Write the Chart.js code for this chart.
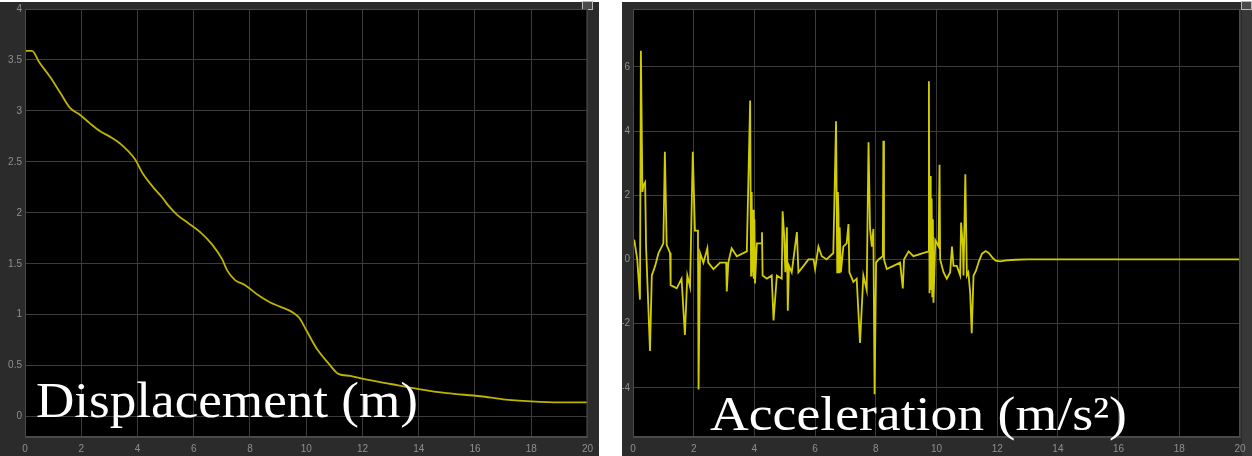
<!DOCTYPE html>
<html>
<head>
<meta charset="utf-8">
<script src="https://cdn.jsdelivr.net/npm/chart.js@4.4.1/dist/chart.umd.min.js"></script>
<style>
  html, body { margin: 0; padding: 0; background: #ffffff; width: 1252px; height: 456px; overflow: hidden; }
  .panel { position: absolute; background: #2b2b2b; }
  .btn { position: absolute; width: 9px; height: 7px; border: 1px solid #b8b8b8; background: #4a4a4a; }
  canvas { position: absolute; top: 0; }
</style>
</head>
<body>
<div class="panel" style="left:0;top:2px;width:599px;height:454px;"></div>
<div class="panel" style="left:622px;top:2px;width:630px;height:454px;"></div>
<div class="panel" style="left:1242px;top:2px;width:10px;height:454px;background:#383838;"></div>
<div class="btn" style="left:582px;top:1px;"></div>
<div class="btn" style="left:1241px;top:1px;"></div>
<canvas id="c1" width="599" height="456" style="left:0;"></canvas>
<canvas id="c2" width="630" height="456" style="left:622px;"></canvas>
<script>
// ---- data ----
const xTickValues = [0, 2, 4, 6, 8, 10, 12, 14, 16, 18, 20];
const dispTickValues = [0, 0.5, 1, 1.5, 2, 2.5, 3, 3.5, 4];
const accTickValues = [-4, -2, 0, 2, 4, 6];

const dispTime = [0, 0.25, 0.5, 0.9, 1.25, 1.6, 1.96, 2.3, 2.67, 3.0, 3.38, 3.9, 4.2, 4.56, 4.88, 5.1, 5.41, 5.8, 6.23, 6.65, 7.0, 7.2, 7.47, 7.83, 8.3, 8.72, 9.07, 9.54, 9.75, 10.0, 10.39, 10.8, 11.14, 11.57, 12.03, 13, 14, 15, 16.2, 17, 18, 19, 20];
const dispValue = [3.59, 3.59, 3.48, 3.33, 3.18, 3.03, 2.96, 2.88, 2.8, 2.75, 2.68, 2.53, 2.38, 2.25, 2.15, 2.07, 1.98, 1.9, 1.81, 1.69, 1.55, 1.43, 1.34, 1.29, 1.19, 1.12, 1.08, 1.02, 0.97, 0.85, 0.66, 0.52, 0.42, 0.40, 0.37, 0.32, 0.27, 0.23, 0.20, 0.17, 0.15, 0.14, 0.14];

const accTime = [0.04, 0.14, 0.23, 0.26, 0.31, 0.34, 0.40, 0.43, 0.56, 0.62, 0.73, 0.84, 1.0, 1.05, 1.11, 1.22, 1.24, 1.44, 1.6, 1.71, 1.79, 1.88, 1.97, 2.04, 2.14, 2.16, 2.21, 2.32, 2.45, 2.48, 2.65, 2.87, 3.07, 3.09, 3.14, 3.25, 3.42, 3.75, 3.86, 3.89, 3.91, 3.93, 3.96, 3.98, 4.0, 4.02, 4.08, 4.24, 4.25, 4.27, 4.41, 4.57, 4.63, 4.74, 4.9, 4.93, 4.98, 5.02, 5.07, 5.1, 5.14, 5.23, 5.4, 5.45, 5.62, 5.78, 5.95, 6.0, 6.11, 6.22, 6.38, 6.6, 6.69, 6.73, 6.75, 6.77, 6.79, 6.81, 6.85, 6.93, 7.04, 7.1, 7.13, 7.26, 7.37, 7.48, 7.59, 7.7, 7.76, 7.81, 7.87, 7.92, 7.96, 8.01, 8.09, 8.23, 8.25, 8.27, 8.36, 8.58, 8.8, 8.89, 8.93, 9.08, 9.24, 9.74, 9.75, 9.77, 9.79, 9.81, 9.84, 9.86, 9.88, 9.9, 9.96, 10.07, 10.1, 10.12, 10.23, 10.34, 10.45, 10.51, 10.56, 10.67, 10.78, 10.81, 10.87, 10.89, 10.95, 11.0, 11.05, 11.11, 11.16, 11.22, 11.3, 11.4, 11.5, 11.62, 11.72, 11.85, 11.95, 12.1, 12.3, 12.6, 13, 20];
const accValue = [0.62, 0.0, -1.25, 6.5, 2.1, 2.3, 2.4, 0.4, -2.85, -0.5, -0.2, 0.2, 0.5, 3.35, 0.45, 0.2, -0.8, -0.9, -0.6, -2.35, -0.5, -0.85, 3.35, 0.9, 0.9, -4.05, 0.2, -0.1, 0.35, -0.1, -0.3, -0.1, -0.1, -1.0, -0.1, 0.35, 0.1, 0.25, 4.95, -0.5, 2.1, -0.4, 1.55, -0.6, 1.25, -0.75, 0.5, 0.5, 0.85, -0.5, -0.6, -0.5, -1.9, -0.5, -0.6, 1.5, 0.75, -0.4, 1.0, -1.6, -0.2, -0.4, 0.85, -0.4, -0.2, 0, 0, -0.3, 0.4, 0.1, 0, 0.2, 4.3, -0.4, 2.1, 1.45, -0.4, 1.0, -0.4, 0.4, 0.5, 1.1, -0.4, -0.7, -0.6, -2.6, -0.5, -0.95, 3.65, 0.95, 0.4, 0.95, -4.2, -0.1, 0, 0.1, 3.7, 0, -0.3, -0.2, -0.1, -0.9, 0, 0.25, 0.1, 0.25, 5.55, -1.05, 2.6, -0.95, 1.9, -1.15, 1.25, -1.35, 0.6, 0.4, 2.95, 0, -0.4, -0.6, -0.4, 0.4, -0.2, -0.2, -0.5, 1.15, 0.4, -0.5, 2.65, -0.5, -0.4, -1.05, -2.3, -0.5, -0.35, -0.05, 0.18, 0.26, 0.2, 0.05, -0.04, -0.06, -0.03, -0.01, 0, 0];

// ---- plugins ----
const plotBox = {
  id: 'plotBox',
  beforeDraw(chart) {
    const a = chart.chartArea, ctx = chart.ctx;
    ctx.save();
    ctx.fillStyle = '#000000';
    ctx.fillRect(a.left, a.top, a.right - a.left, a.bottom - a.top);
    ctx.restore();
  },
  afterDraw(chart) {
    const a = chart.chartArea, ctx = chart.ctx;
    ctx.save();
    ctx.strokeStyle = '#4a4a4a';
    ctx.lineWidth = 1;
    ctx.strokeRect(a.left + 0.5, a.top + 0.5, a.right - a.left - 1, a.bottom - a.top - 1);
    const c = chart.options.plugins.caption;
    if (c) {
      ctx.font = c.size + 'px "Liberation Serif", "DejaVu Serif", serif';
      ctx.fillStyle = '#ffffff';
      ctx.textBaseline = 'alphabetic';
      const w = ctx.measureText(c.text).width;
      ctx.translate(c.x, c.y);
      ctx.scale(c.width / w, 1);
      ctx.fillText(c.text, 0, 0);
    }
    ctx.restore();
  }
};

const tickFont = { size: 10, family: 'Liberation Sans, Arial, sans-serif' };

function makeChart(id, xs, ys, color, width, smooth, yMin, yMax, yTicks, yAxisWidth, pad, caption) {
  return new Chart(document.getElementById(id), {
    type: 'line',
    data: {
      datasets: [{
        data: xs.map((x, i) => ({ x: x, y: ys[i] })),
        borderColor: color,
        borderWidth: width,
        pointRadius: 0,
        cubicInterpolationMode: smooth ? 'monotone' : 'default',
        tension: smooth ? 0.4 : 0,
        fill: false
      }]
    },
    options: {
      responsive: false,
      maintainAspectRatio: false,
      animation: false,
      events: [],
      layout: { padding: pad },
      plugins: { legend: { display: false }, tooltip: { enabled: false }, caption: caption },
      scales: {
        x: {
          type: 'linear', min: 0, max: 20,
          afterBuildTicks: s => { s.ticks = xTickValues.map(v => ({ value: v })); },
          afterFit: s => { s.height = 19; },
          ticks: { color: '#8f8f8f', font: tickFont, padding: 6, maxRotation: 0, autoSkip: false, callback: v => String(v) },
          grid: { color: '#3c3c3c', drawTicks: false },
          border: { color: '#4a4a4a' }
        },
        y: {
          type: 'linear', min: yMin, max: yMax,
          afterBuildTicks: s => { s.ticks = yTicks.map(v => ({ value: v })); },
          afterFit: s => { s.width = yAxisWidth; },
          ticks: { color: '#8f8f8f', font: tickFont, padding: 3, autoSkip: false, callback: v => String(v) },
          grid: { color: '#3c3c3c', drawTicks: false },
          border: { color: '#4a4a4a' }
        }
      }
    },
    plugins: [plotBox]
  });
}

makeChart('c1', dispTime, dispValue, '#bdb300', 1.8, true, -0.2, 4, dispTickValues, 25,
  { left: 0, right: 11, top: 8, bottom: 0 },
  { text: 'Displacement (m)', x: 36, y: 417, size: 50, width: 382 });

makeChart('c2', accTime, accValue, '#d2cd00', 1.8, false, -5.53, 7.8, accTickValues, 11,
  { left: 0, right: 12, top: 9, bottom: 0 },
  { text: 'Acceleration (m/s\u00B2)', x: 88, y: 430, size: 48, width: 417 });
</script>
</body>
</html>
